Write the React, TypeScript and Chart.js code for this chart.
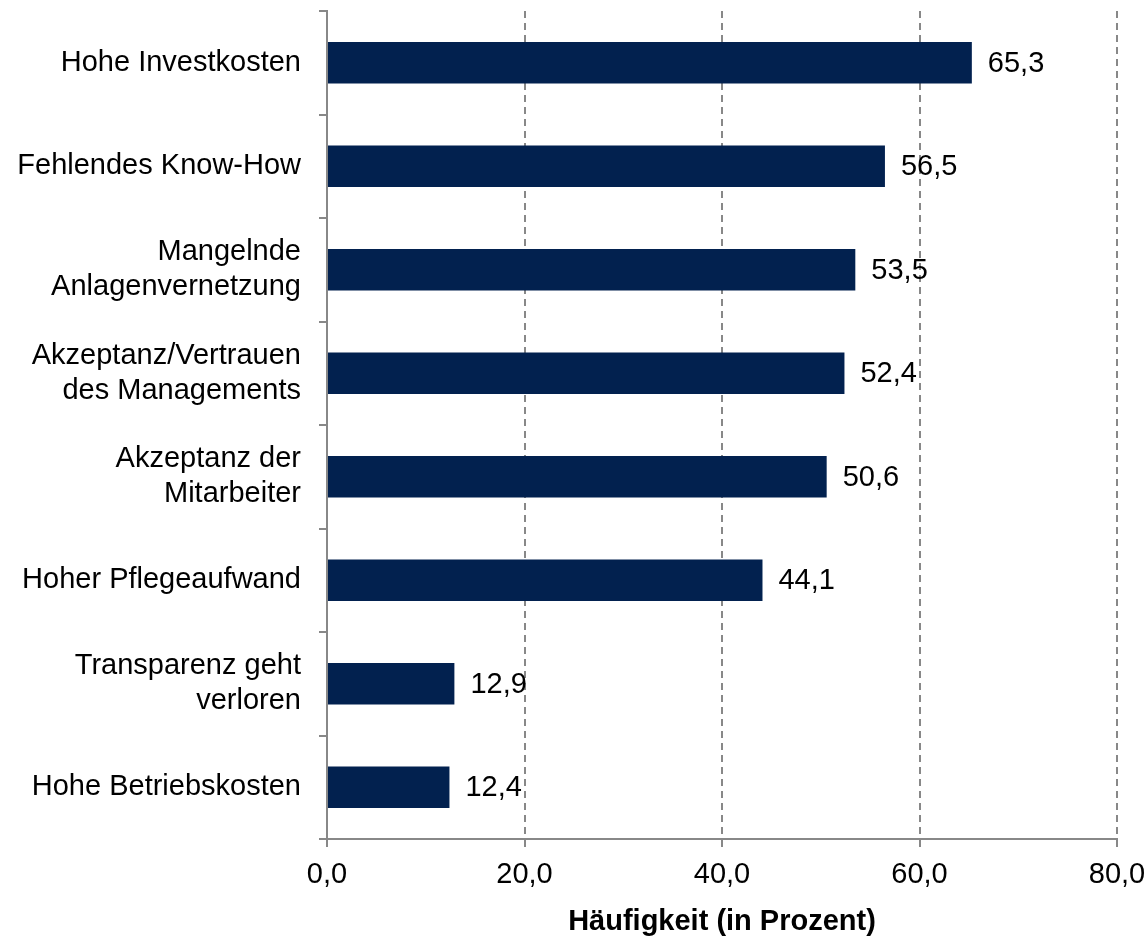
import React, { useEffect, useRef } from "react";
import { Chart, registerables } from "chart.js";

Chart.register(...registerables);

const categories: string[][] = [
  ["Hohe Investkosten"],
  ["Fehlendes Know-How"],
  ["Mangelnde", "Anlagenvernetzung"],
  ["Akzeptanz/Vertrauen", "des Managements"],
  ["Akzeptanz der", "Mitarbeiter"],
  ["Hoher Pflegeaufwand"],
  ["Transparenz geht", "verloren"],
  ["Hohe Betriebskosten"],
];
const values: number[] = [65.3, 56.5, 53.5, 52.4, 50.6, 44.1, 12.9, 12.4];
const xTicks: number[] = [0, 20, 40, 60, 80];
const axisTitle = "Häufigkeit (in Prozent)";

const FONT = "'Liberation Sans', Arial, sans-serif";
const GRAY = "#888888";
const fmt = (v: number) => v.toFixed(1).replace(".", ",");

const valueLabels = {
  id: "valueLabels",
  afterDatasetsDraw(chart: any) {
    const ctx = chart.ctx;
    const meta = chart.getDatasetMeta(0);
    ctx.save();
    ctx.font = `29px ${FONT}`;
    ctx.fillStyle = "#000";
    ctx.textAlign = "left";
    ctx.textBaseline = "middle";
    meta.data.forEach((bar: any, i: number) => {
      ctx.fillText(fmt(values[i]), bar.x + 16, bar.y + 1);
    });
    ctx.restore();
  },
};

export default function App() {
  const ref = useRef<HTMLCanvasElement>(null);
  useEffect(() => {
    if (!ref.current) return;
    const chart = new Chart(ref.current, {
      type: "bar",
      data: {
        labels: categories,
        datasets: [
          {
            data: values,
            backgroundColor: "#02214f",
            barPercentage: 0.4,
            categoryPercentage: 1,
          },
        ],
      },
      options: {
        indexAxis: "y",
        animation: false,
        responsive: false,
        maintainAspectRatio: false,
        layout: { padding: { top: 11, right: 29, left: 0, bottom: 0 } },
        plugins: { legend: { display: false }, tooltip: { enabled: false } },
        scales: {
          x: {
            min: 0,
            max: 80,
            afterBuildTicks: (scale: any) => {
              scale.ticks = xTicks.map((v) => ({ value: v }));
            },
            afterFit: (scale: any) => {
              scale.height = 102;
              scale.paddingLeft = 0;
              scale.paddingRight = 0;
            },
            grid: {
              color: (c: any) => (c.tick && c.tick.value === 0 ? "rgba(0,0,0,0)" : GRAY),
              lineWidth: 2,
              tickColor: GRAY,
              tickWidth: 2,
              tickLength: 8,
              tickBorderDash: [],
              drawTicks: true,
            },
            border: { display: true, color: GRAY, width: 2, dash: [7, 5] },
            ticks: {
              color: "#000",
              font: { family: FONT, size: 29 },
              padding: 11,
              maxRotation: 0,
              callback: (v: any) => fmt(Number(v)),
            },
            title: {
              display: true,
              text: axisTitle,
              color: "#000",
              font: { family: FONT, size: 29, weight: "bold" },
              padding: { top: 10, bottom: 2 },
            },
          },
          y: {
            afterFit: (scale: any) => {
              scale.width = 327;
              scale.paddingTop = 0;
              scale.paddingBottom = 0;
            },
            grid: {
              offset: true,
              drawOnChartArea: false,
              drawTicks: true,
              tickLength: 8,
              color: GRAY,
              tickColor: GRAY,
              lineWidth: 2,
              tickWidth: 2,
              tickBorderDash: [],
            },
            border: { display: true, color: GRAY, width: 2 },
            ticks: {
              color: "#000",
              font: { family: FONT, size: 29, lineHeight: 1.2 },
              padding: 18,
              crossAlign: "near",
            },
          },
        },
      },
      plugins: [valueLabels],
    });
    return () => chart.destroy();
  }, []);
  return (
    <div style={{ position: "absolute", left: 0, top: 0, width: 1146, height: 941, background: "#fff" }}>
      <canvas ref={ref} width={1146} height={941} style={{ width: 1146, height: 941 }} />
    </div>
  );
}
